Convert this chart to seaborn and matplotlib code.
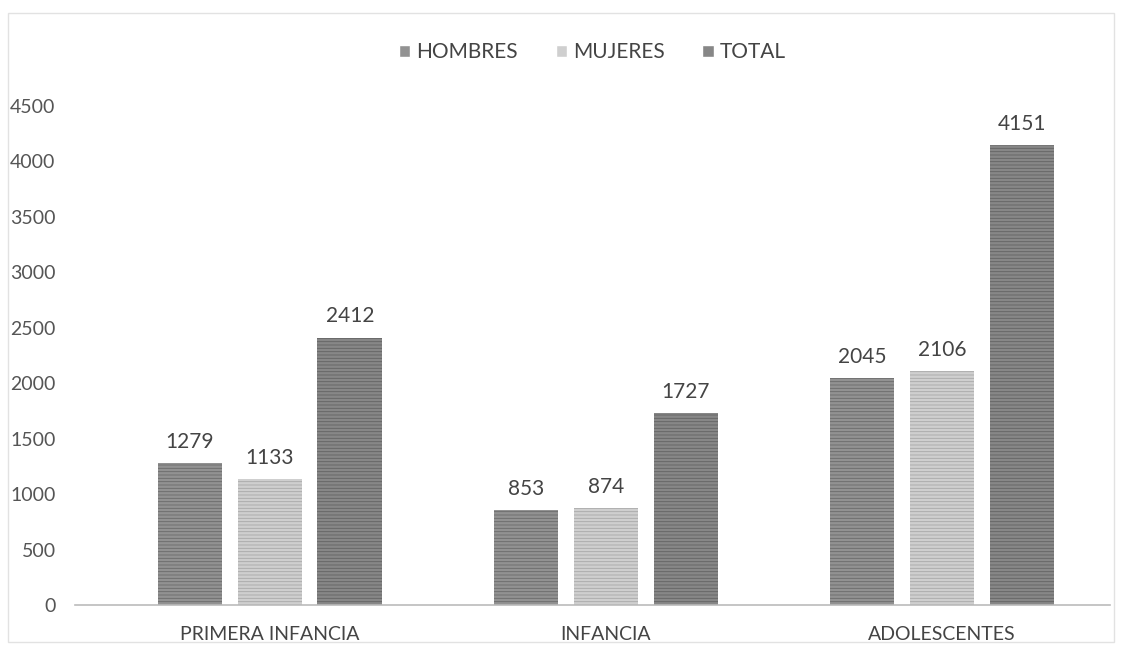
import matplotlib
matplotlib.use("Agg")
import matplotlib.pyplot as plt
import seaborn as sns
import pandas as pd

categories = ["PRIMERA INFANCIA", "INFANCIA", "ADOLESCENTES"]
series = ["HOMBRES", "MUJERES", "TOTAL"]
hombres = [1279, 853, 2045]
mujeres = [1133, 874, 2106]
total = [2412, 1727, 4151]
yticks = [0, 500, 1000, 1500, 2000, 2500, 3000, 3500, 4000, 4500]

df = pd.DataFrame({
    "grupo": categories * 3,
    "serie": [s for s in series for _ in categories],
    "valor": hombres + mujeres + total,
})

sns.set_theme(style="white")
plt.rcParams["font.family"] = ["Lato", "DejaVu Sans"]
plt.rcParams["hatch.linewidth"] = 0.6

palette = {"HOMBRES": "#929292", "MUJERES": "#cfcfcf", "TOTAL": "#878787"}
hatch_col = {"HOMBRES": "#6a6a6a", "MUJERES": "#a8a8a8", "TOTAL": "#626262"}

fig = plt.figure(figsize=(11.22, 6.45), dpi=100)
ax = fig.add_axes([75 / 1122, 40 / 645, 1035 / 1122, 499 / 645])

sns.barplot(data=df, x="grupo", y="valor", hue="serie", order=categories,
            hue_order=series, palette=palette, width=0.714, gap=0.19,
            errorbar=None, ax=ax, saturation=1)

for cont, name in zip(ax.containers, series):
    for bar in cont:
        bar.set_hatch("-----")
        bar.set_edgecolor(hatch_col[name])
        bar.set_linewidth(0)
    ax.bar_label(cont, labels=[f"{int(v)}" for v in cont.datavalues],
                 padding=8, fontsize=15, color="#444444")

ax.set_ylim(0, 4500)
ax.set_xlim(-0.58, 2.5)
ax.set_yticks(yticks)
ax.set_yticklabels([str(t) for t in yticks], fontsize=14, color="#555555")
ax.tick_params(axis="x", labelsize=14, colors="#444444", length=0, pad=15)
ax.tick_params(axis="y", length=0, pad=14)
ax.set_xlabel("")
ax.set_ylabel("")
for s in ["top", "right", "left"]:
    ax.spines[s].set_visible(False)
ax.spines["bottom"].set_color("#bbbbbb")
ax.spines["bottom"].set_linewidth(1.2)

handles, labels = ax.get_legend_handles_labels()
ax.legend(handles, labels, loc="upper center", bbox_to_anchor=(0.5, 1.165),
          ncol=3, frameon=False, fontsize=15, handlelength=0.55,
          handleheight=0.55, handletextpad=0.3, columnspacing=1.8,
          labelcolor="#444444")

fig.patches.append(plt.Rectangle((8 / 1122, 0.005), 1 - 16 / 1122, 0.975,
                                 transform=fig.transFigure, fill=False,
                                 edgecolor="#e2e2e2", linewidth=1))

fig.savefig("out.png", dpi=100, facecolor="white")
